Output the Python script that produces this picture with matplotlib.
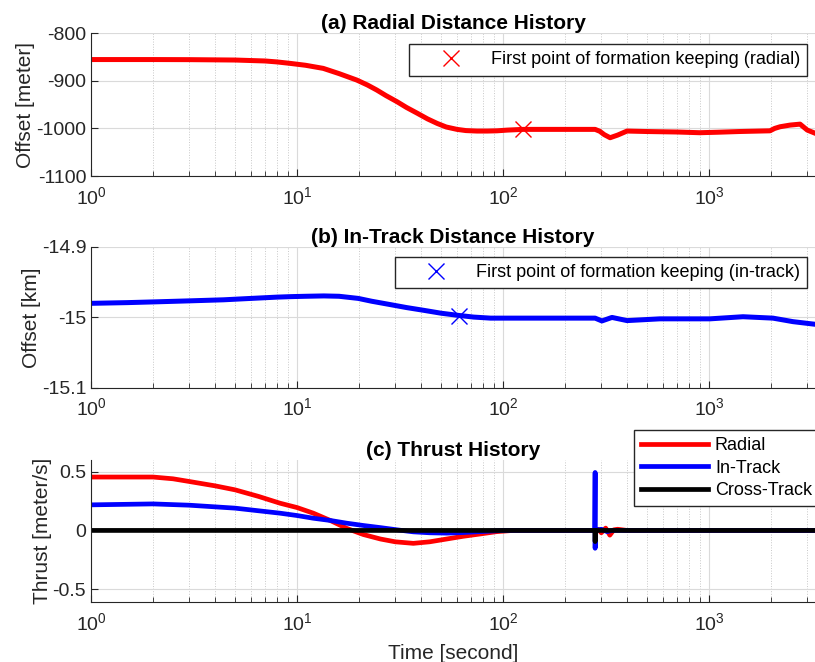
import matplotlib.pyplot as plt

plt.rcParams["font.family"] = ["Liberation Sans", "DejaVu Sans"]
plt.rcParams["axes.unicode_minus"] = False
plt.rcParams["mathtext.fontset"] = "custom"
plt.rcParams["mathtext.rm"] = "Liberation Sans"

# (a) radial distance history [meter]
t_rad = [1, 2, 3, 5, 7, 8, 9.25, 11, 13.4, 16, 19.5, 22, 24.4, 27, 30.6, 34,
         38.3, 43, 47.9, 53, 59.8, 66, 74.8, 84, 93.5, 105, 125, 190, 280,
         295, 310, 331, 360, 400, 500, 700, 900, 1100, 1400, 1977, 2083,
         2213, 2473, 2767, 3000, 3270]
radial = [-855.5, -855.5, -855.7, -856.5, -858.5, -860.5, -863.5, -867.5,
          -874, -885, -898.5, -909, -919.5, -931, -944, -956, -968, -980,
          -989.5, -997, -1002, -1004.5, -1005.5, -1005.5, -1005, -1003.5,
          -1002, -1002, -1002, -1006, -1013, -1019.5, -1014, -1005.5, -1006.5,
          -1007.5, -1009, -1008, -1006.5, -1005, -1000, -996.5, -993, -991,
          -1003.5, -1010]
keep_rad = (125, -1002)

# (b) in-track distance history [km]
t_in = [1, 1.5, 2, 3, 4.4, 6, 8, 9.35, 11, 13.5, 16, 19.8, 23, 28.6, 34, 41.4,
        50, 60.3, 72, 87, 150, 280, 302, 338, 400, 577, 1011, 1462, 2044,
        2558, 3270]
intrack = [-14.980, -14.979, -14.978, -14.9765, -14.975, -14.973, -14.9712,
           -14.9705, -14.970, -14.9695, -14.970, -14.973, -14.977, -14.982,
           -14.986, -14.990, -14.994, -14.997, -14.9995, -15.001, -15.001,
           -15.001, -15.005, -15.000, -15.0045, -15.002, -15.002, -14.999,
           -15.001, -15.006, -15.0097]
keep_in = (61, -14.998)

# (c) thrust history [meter/s]
t_thr_r = [1, 2, 2.5, 3, 4, 5, 6.5, 8.27, 10, 12, 14.5, 17.4, 21, 25.4, 30,
           36.7, 44, 53.3, 64, 77.5, 93.4, 112, 200, 280, 290, 300, 315, 330,
           345, 360, 400, 1000, 3270]
thr_r = [0.455, 0.455, 0.44, 0.417, 0.38, 0.346, 0.29, 0.232, 0.195, 0.147,
         0.085, 0.018, -0.035, -0.073, -0.097, -0.11, -0.097, -0.073, -0.05,
         -0.03, -0.01, 0, 0, 0, 0.01, -0.02, 0.02, -0.04, 0.005, 0.01, 0, 0, 0]
t_thr_i = [1, 2, 3, 5, 8.27, 10, 12, 14.5, 17.4, 21, 25.4, 30.6, 36.7, 44,
           53.3, 64, 77.5, 100, 279, 280, 280, 281, 300, 320, 340, 3270]
thr_i = [0.218, 0.226, 0.215, 0.19, 0.147, 0.127, 0.104, 0.085, 0.062, 0.042,
         0.024, 0.005, -0.012, -0.02, -0.023, -0.018, -0.01, 0, 0, 0.494,
         -0.152, 0, 0.01, -0.01, 0, 0]
t_thr_c = [1, 279, 280, 281, 3270]
thr_c = [0, 0, -0.095, 0, 0]

titles = ["(a) Radial Distance History", "(b) In-Track Distance History",
          "(c) Thrust History"]
ylabels = ["Offset [meter]", "Offset [km]", "Thrust [meter/s]"]
yticks_a = [-800, -900, -1000, -1100]
yticks_b = [-14.9, -15.0, -15.1]
yticklabels_b = ["-14.9", "-15", "-15.1"]
yticks_c = [0.5, 0, -0.5]
yticklabels_c = ["0.5", "0", "-0.5"]

dark = "#262626"
fig = plt.figure(figsize=(8.15, 6.62), dpi=100)
ax_a = fig.add_axes([0.1117, 0.734, 0.8883, 0.216])
ax_b = fig.add_axes([0.1117, 0.414, 0.8883, 0.213])
ax_c = fig.add_axes([0.1117, 0.0906, 0.8883, 0.2145])

for ax, title, ylab in zip([ax_a, ax_b, ax_c], titles, ylabels):
    ax.set_xscale("log")
    ax.set_xlim(1, 3270)
    ax.grid(True, which="major", color="#dadada", lw=0.8)
    ax.grid(True, which="minor", color="#c8c8c8", lw=0.7, ls=":")
    ax.set_axisbelow(True)
    for s in ["top", "right"]:
        ax.spines[s].set_visible(False)
    for s in ["left", "bottom"]:
        ax.spines[s].set_color(dark)
        ax.spines[s].set_linewidth(0.8)
    ax.tick_params(which="both", direction="in", colors=dark, labelsize=14,
                   top=False, right=False)
    ax.tick_params(which="major", length=5, width=0.8)
    ax.tick_params(which="minor", length=3.5, width=0.6)
    ax.tick_params(axis="x", pad=7)
    ax.set_title(title, fontsize=15, fontweight="bold", pad=3)
    ax.set_ylabel(ylab, fontsize=15, color=dark, labelpad=0.5)

# (a)
ax_a.plot(t_rad, radial, color="red", lw=3.6, solid_joinstyle="round")
ax_a.plot([keep_rad[0]], [keep_rad[1]], "x", color="red", ms=12, mew=1.0,
          label="First point of formation keeping (radial)")
ax_a.set_ylim(-1100, -800)
ax_a.set_yticks(yticks_a)
ax_a.legend(loc="upper right", bbox_to_anchor=(0.989, 0.923), borderaxespad=0,
            handlelength=3.8, handletextpad=0.3, fontsize=13, fancybox=False,
            edgecolor=dark, framealpha=1)

# (b)
ax_b.plot(t_in, intrack, color="blue", lw=3.6, solid_joinstyle="round")
ax_b.plot([keep_in[0]], [keep_in[1]], "x", color="blue", ms=12, mew=1.0,
          label="First point of formation keeping (in-track)")
ax_b.set_ylim(-15.1, -14.9)
ax_b.set_yticks(yticks_b, yticklabels_b)
ax_b.legend(loc="upper right", bbox_to_anchor=(0.989, 0.929), borderaxespad=0,
            handlelength=3.8, handletextpad=0.3, fontsize=13, fancybox=False,
            edgecolor=dark, framealpha=1)

# (c)
ax_c.plot(t_thr_r, thr_r, color="red", lw=3.4, solid_joinstyle="round",
          label="Radial")
ax_c.plot(t_thr_i, thr_i, color="blue", lw=3.4, solid_joinstyle="round",
          label="In-Track")
ax_c.plot(t_thr_c, thr_c, color="black", lw=3.4, label="Cross-Track")
ax_c.set_ylim(-0.61, 0.6)
ax_c.set_yticks(yticks_c, yticklabels_c)
ax_c.set_xlabel("Time [second]", fontsize=15, color=dark, labelpad=7.5)
ax_c.legend(loc="upper right", bbox_to_anchor=(1.006, 1.211), borderaxespad=0,
            handlelength=3.7, handletextpad=0.4, labelspacing=0.3, fontsize=13,
            fancybox=False, edgecolor=dark, framealpha=1)

fig.savefig("out.png")
